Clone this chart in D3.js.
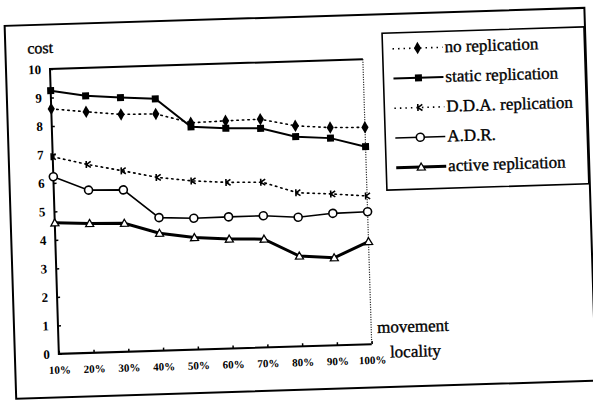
<!DOCTYPE html>
<html>
<head>
<meta charset="utf-8">
<script src="https://cdn.jsdelivr.net/npm/d3@7"></script>
<style>
  body { margin: 0; background: #fff; }
  text { fill: #000; }
  .label { stroke: #000; stroke-width: 0.35px; }
</style>
</head>
<body>
<script>
// chart data (cost per movement locality)
var categories = ["10%", "20%", "30%", "40%", "50%", "60%", "70%", "80%", "90%", "100%"];
var yTicks = [0, 1, 2, 3, 4, 5, 6, 7, 8, 9, 10];

var noReplication     = [8.60, 8.46, 8.33, 8.31, 7.96, 7.99, 8.01, 7.74, 7.64, 7.61];
var staticReplication = [9.24, 9.02, 8.92, 8.84, 7.82, 7.73, 7.69, 7.36, 7.27, 6.93];
var ddaReplication    = [6.92, 6.61, 6.35, 6.08, 5.92, 5.83, 5.80, 5.39, 5.31, 5.20];
var adrValues         = [6.22, 5.71, 5.68, 4.67, 4.61, 4.62, 4.62, 4.53, 4.63, 4.65];
var activeReplication = [4.60, 4.54, 4.51, 4.12, 3.93, 3.84, 3.80, 3.17, 3.07, 3.60];

var seriesNames = ["no replication", "static replication", "D.D.A. replication", "A.D.R.", "active replication"];

var serif = "'Liberation Serif', 'Times New Roman', serif";
var w = 593, h = 401;

var svg = d3.select("body").append("svg")
    .attr("width", w)
    .attr("height", h);

svg.append("rect").attr("width", w).attr("height", h).attr("fill", "#fff");

// the scan is slightly tilted, so everything sits in one rotated group
var g = svg.append("g").attr("transform", "rotate(-1.78, 50, 69)");

// outer frame
g.append("rect")
    .attr("x", 6).attr("y", 24.5)
    .attr("width", 580).attr("height", 373)
    .attr("fill", "none").attr("stroke", "#000").attr("stroke-width", 2);

var plot = { left: 50, right: 363, top: 69, bottom: 354 };

var x = d3.scalePoint().domain(categories).range([plot.left, plot.right]);
var y = d3.scaleLinear().domain([0, 10]).range([plot.bottom, plot.top]);

// plot box: solid top / left / bottom, dotted right
g.append("path")
    .attr("d", "M" + plot.right + "," + plot.top + "H" + plot.left + "V" + plot.bottom + "H" + plot.right)
    .attr("fill", "none").attr("stroke", "#000").attr("stroke-width", 2);
g.append("line")
    .attr("x1", plot.right).attr("x2", plot.right)
    .attr("y1", plot.top).attr("y2", plot.bottom)
    .attr("stroke", "#000").attr("stroke-width", 1.2).attr("stroke-dasharray", "1,1.5");

// y axis
var yAxis = d3.axisLeft(y).tickValues(yTicks).tickSize(-3).tickPadding(9).tickFormat(d3.format("d"));
var yg = g.append("g").attr("transform", "translate(" + plot.left + ",0)").call(yAxis);
yg.select(".domain").remove();
yg.selectAll("line").attr("stroke", "#000").attr("stroke-width", 1.5);
yg.selectAll("text")
    .style("font-family", serif)
    .style("font-size", "13px").style("font-weight", "bold");

// x axis
var xAxis = d3.axisBottom(x).tickSize(-3).tickPadding(12);
var xg = g.append("g").attr("transform", "translate(0," + plot.bottom + ")").call(xAxis);
xg.select(".domain").remove();
xg.selectAll("line").attr("stroke", "#000").attr("stroke-width", 1.5);
xg.selectAll("text")
    .style("font-family", serif)
    .style("font-size", "11px").style("font-weight", "bold");

// axis titles
g.append("text").attr("class", "label").attr("x", 28).attr("y", 53)
    .style("font-family", serif).style("font-size", "16px").text("cost");
g.append("text").attr("class", "label").attr("x", 369).attr("y", 343)
    .style("font-family", serif).style("font-size", "17px").text("movement");
g.append("text").attr("class", "label").attr("x", 381).attr("y", 368)
    .style("font-family", serif).style("font-size", "17px").text("locality");

// series styles
var styles = [
    { name: seriesNames[0], values: noReplication, width: 1.6, dash: "1.5,4", marker: "diamond" },
    { name: seriesNames[1], values: staticReplication, width: 2, dash: null, marker: "square" },
    { name: seriesNames[2], values: ddaReplication, width: 1.6, dash: "1.5,4", marker: "x" },
    { name: seriesNames[3], values: adrValues, width: 1.6, dash: null, marker: "circle" },
    { name: seriesNames[4], values: activeReplication, width: 3, dash: null, marker: "triangle" }
];

var line = d3.line()
    .x(function(d, i) { return x(categories[i]); })
    .y(function(d) { return y(d); });

function drawMarker(sel, type, cx, cy) {
    if (type === "diamond") {
        sel.append("path")
            .attr("d", d3.symbol().type(d3.symbolDiamond).size(45)())
            .attr("transform", "translate(" + cx + "," + cy + ")")
            .attr("fill", "#000");
    } else if (type === "square") {
        sel.append("rect")
            .attr("x", cx - 3.5).attr("y", cy - 3.5)
            .attr("width", 7).attr("height", 7)
            .attr("fill", "#000");
    } else if (type === "x") {
        sel.append("path")
            .attr("d", "M" + (cx - 1.5) + "," + (cy - 3.5) + "V" + (cy + 3.5) +
                "M" + (cx - 1.5) + "," + cy + "L" + (cx + 3) + "," + (cy - 3) +
                "M" + (cx - 1.5) + "," + cy + "L" + (cx + 3) + "," + (cy + 3))
            .attr("fill", "none").attr("stroke", "#000").attr("stroke-width", 1.6);
    } else if (type === "circle") {
        sel.append("circle")
            .attr("cx", cx).attr("cy", cy).attr("r", 4)
            .attr("fill", "#fff").attr("stroke", "#000").attr("stroke-width", 1.6);
    } else if (type === "triangle") {
        sel.append("path")
            .attr("d", "M" + cx + "," + (cy - 4) + "L" + (cx + 4) + "," + (cy + 3) + "L" + (cx - 4) + "," + (cy + 3) + "Z")
            .attr("fill", "#fff").attr("stroke", "#000").attr("stroke-width", 1.3);
    }
}

styles.forEach(function(s) {
    var sg = g.append("g").attr("class", "series");
    sg.append("path")
        .datum(s.values)
        .attr("d", line)
        .attr("fill", "none")
        .attr("stroke", "#000")
        .attr("stroke-width", s.width)
        .attr("stroke-linecap", "round")
        .attr("stroke-dasharray", s.dash);
    s.values.forEach(function(v, i) {
        drawMarker(sg, s.marker, x(categories[i]), y(v));
    });
});

// legend
var legend = g.append("g").attr("class", "legend");
legend.append("rect")
    .attr("x", 383).attr("y", 43.5)
    .attr("width", 202).attr("height", 157)
    .attr("fill", "#fff").attr("stroke", "#000").attr("stroke-width", 1.6);

styles.forEach(function(s, i) {
    var ly = 59.5 + i * 29.75;
    legend.append("line")
        .attr("x1", 393).attr("x2", 443)
        .attr("y1", ly).attr("y2", ly)
        .attr("stroke", "#000")
        .attr("stroke-width", s.width)
        .attr("stroke-dasharray", s.dash);
    drawMarker(legend, s.marker, 418, ly);
    legend.append("text")
        .attr("class", "label")
        .attr("x", 445).attr("y", ly + 5)
        .style("font-family", serif)
        .style("font-size", "17px")
        .text(s.name);
});
</script>
</body>
</html>
